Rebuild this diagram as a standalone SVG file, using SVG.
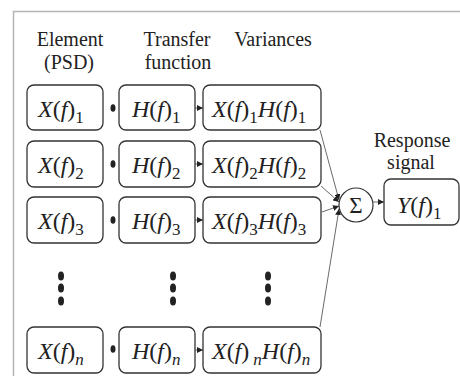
<svg xmlns="http://www.w3.org/2000/svg" width="460" height="376" viewBox="0 0 460 376" font-family="'Liberation Serif', 'Times New Roman', Tinos, 'DejaVu Serif', serif">
<style>
.frame{fill:none;stroke:#b4b4b4;stroke-width:1.5}
.box{fill:#fff;stroke:#333;stroke-width:1.3}
text{font-family:'Liberation Serif','Times New Roman',Tinos,'DejaVu Serif',serif}
.hd{font-size:20px;fill:#222;text-anchor:middle}
.lb{font-size:24px;fill:#222}
.it{font-style:italic}
.sb{font-size:17px}
.dot{fill:#222}
.con{fill:none;stroke:#444;stroke-width:0.8}
</style>
<defs>
<marker id="ah" viewBox="0 0 6 6" refX="6" refY="3" markerWidth="6" markerHeight="6" markerUnits="userSpaceOnUse" orient="auto">
<path d="M0,0 L6,3 L0,6 z" fill="#222"/>
</marker>
</defs>
<path class="frame" d="M13.5,376 V11.5 H460"/>
<g id="headers">
<text class="hd" x="70" y="46">Element</text>
<text class="hd" x="69" y="69">(PSD)</text>
<text class="hd" x="177" y="46">Transfer</text>
<text class="hd" x="178" y="69">function</text>
<text class="hd" x="273" y="46">Variances</text>
<text class="hd" x="412" y="147">Response</text>
<text class="hd" x="411" y="169">signal</text>
</g>
<g id="connectors">
<line class="con" x1="195" y1="108" x2="203" y2="108" marker-end="url(#ah)"/>
<line class="con" x1="195" y1="164" x2="203" y2="164" marker-end="url(#ah)"/>
<line class="con" x1="195" y1="220" x2="203" y2="220" marker-end="url(#ah)"/>
<line class="con" x1="195" y1="350" x2="203" y2="350" marker-end="url(#ah)"/>
<line class="con" x1="320" y1="130" x2="339" y2="200" marker-end="url(#ah)"/>
<line class="con" x1="321" y1="186" x2="339" y2="202" marker-end="url(#ah)"/>
<line class="con" x1="322" y1="212" x2="339" y2="206" marker-end="url(#ah)"/>
<line class="con" x1="320" y1="327" x2="339" y2="209" marker-end="url(#ah)"/>
<line class="con" x1="373" y1="202" x2="384" y2="202" marker-end="url(#ah)"/>
</g>
<g id="dots">
<ellipse class="dot" cx="113" cy="108" rx="2.5" ry="3.8"/>
<ellipse class="dot" cx="113" cy="164" rx="2.5" ry="3.8"/>
<ellipse class="dot" cx="113" cy="220" rx="2.5" ry="3.8"/>
<ellipse class="dot" cx="113" cy="349" rx="2.5" ry="3.8"/>
<ellipse class="dot" cx="61" cy="276" rx="3" ry="4.5"/>
<ellipse class="dot" cx="61" cy="288" rx="3" ry="4.5"/>
<ellipse class="dot" cx="61" cy="301" rx="3" ry="4.5"/>
<ellipse class="dot" cx="173" cy="276" rx="3" ry="4.5"/>
<ellipse class="dot" cx="173" cy="288" rx="3" ry="4.5"/>
<ellipse class="dot" cx="173" cy="301" rx="3" ry="4.5"/>
<ellipse class="dot" cx="268" cy="276" rx="3" ry="4.5"/>
<ellipse class="dot" cx="268" cy="288" rx="3" ry="4.5"/>
<ellipse class="dot" cx="268" cy="301" rx="3" ry="4.5"/>
</g>
<g id="x1"><rect class="box" x="27" y="85" width="76" height="45" rx="7"/><text class="lb" x="38" y="117"><tspan class="it">X</tspan>(<tspan class="it">f</tspan>)<tspan class="sb" dy="6">1</tspan></text></g>
<g id="x2"><rect class="box" x="27" y="141" width="76" height="46" rx="7"/><text class="lb" x="38" y="173"><tspan class="it">X</tspan>(<tspan class="it">f</tspan>)<tspan class="sb" dy="6">2</tspan></text></g>
<g id="x3"><rect class="box" x="27" y="197" width="76" height="46" rx="7"/><text class="lb" x="38" y="229"><tspan class="it">X</tspan>(<tspan class="it">f</tspan>)<tspan class="sb" dy="6">3</tspan></text></g>
<g id="xn"><rect class="box" x="27" y="327" width="76" height="46" rx="7"/><text class="lb" x="38" y="359"><tspan class="it">X</tspan>(<tspan class="it">f</tspan>)<tspan class="sb it" dy="6">n</tspan></text></g>
<g id="h1"><rect class="box" x="119" y="85" width="76" height="45" rx="7"/><text class="lb" x="132" y="117"><tspan class="it">H</tspan>(<tspan class="it">f</tspan>)<tspan class="sb" dy="6">1</tspan></text></g>
<g id="h2"><rect class="box" x="119" y="141" width="76" height="46" rx="7"/><text class="lb" x="132" y="173"><tspan class="it">H</tspan>(<tspan class="it">f</tspan>)<tspan class="sb" dy="6">2</tspan></text></g>
<g id="h3"><rect class="box" x="119" y="197" width="76" height="46" rx="7"/><text class="lb" x="132" y="229"><tspan class="it">H</tspan>(<tspan class="it">f</tspan>)<tspan class="sb" dy="6">3</tspan></text></g>
<g id="hn"><rect class="box" x="119" y="327" width="76" height="46" rx="7"/><text class="lb" x="132" y="359"><tspan class="it">H</tspan>(<tspan class="it">f</tspan>)<tspan class="sb it" dy="6">n</tspan></text></g>
<g id="v1"><rect class="box" x="203" y="85" width="118" height="45" rx="7"/><text class="lb" x="212" y="117"><tspan class="it">X</tspan>(<tspan class="it">f</tspan>)<tspan class="sb" dy="6">1</tspan><tspan class="it" dy="-6">H</tspan>(<tspan class="it">f</tspan>)<tspan class="sb" dy="6">1</tspan></text></g>
<g id="v2"><rect class="box" x="203" y="141" width="118" height="46" rx="7"/><text class="lb" x="212" y="173"><tspan class="it">X</tspan>(<tspan class="it">f</tspan>)<tspan class="sb" dy="6">2</tspan><tspan class="it" dy="-6">H</tspan>(<tspan class="it">f</tspan>)<tspan class="sb" dy="6">2</tspan></text></g>
<g id="v3"><rect class="box" x="203" y="197" width="118" height="46" rx="7"/><text class="lb" x="212" y="229"><tspan class="it">X</tspan>(<tspan class="it">f</tspan>)<tspan class="sb" dy="6">3</tspan><tspan class="it" dy="-6">H</tspan>(<tspan class="it">f</tspan>)<tspan class="sb" dy="6">3</tspan></text></g>
<g id="vn"><rect class="box" x="203" y="327" width="118" height="46" rx="7"/><text class="lb" x="212" y="359"><tspan class="it">X</tspan>(<tspan class="it">f</tspan>)<tspan class="sb it" dx="4" dy="6">n</tspan><tspan class="it" dy="-6">H</tspan>(<tspan class="it">f</tspan>)<tspan class="sb it" dy="6">n</tspan></text></g>
<g id="sum"><circle cx="356" cy="205" r="17" fill="#fff" stroke="#333" stroke-width="1.2"/><text class="hd" x="356" y="213" style="font-size:23px">Σ</text></g>
<g id="y1"><rect class="box" x="384" y="179" width="75" height="46" rx="7"/><text class="lb" x="397" y="213"><tspan class="it">Y</tspan>(<tspan class="it">f</tspan>)<tspan class="sb" dy="6">1</tspan></text></g>
</svg>
